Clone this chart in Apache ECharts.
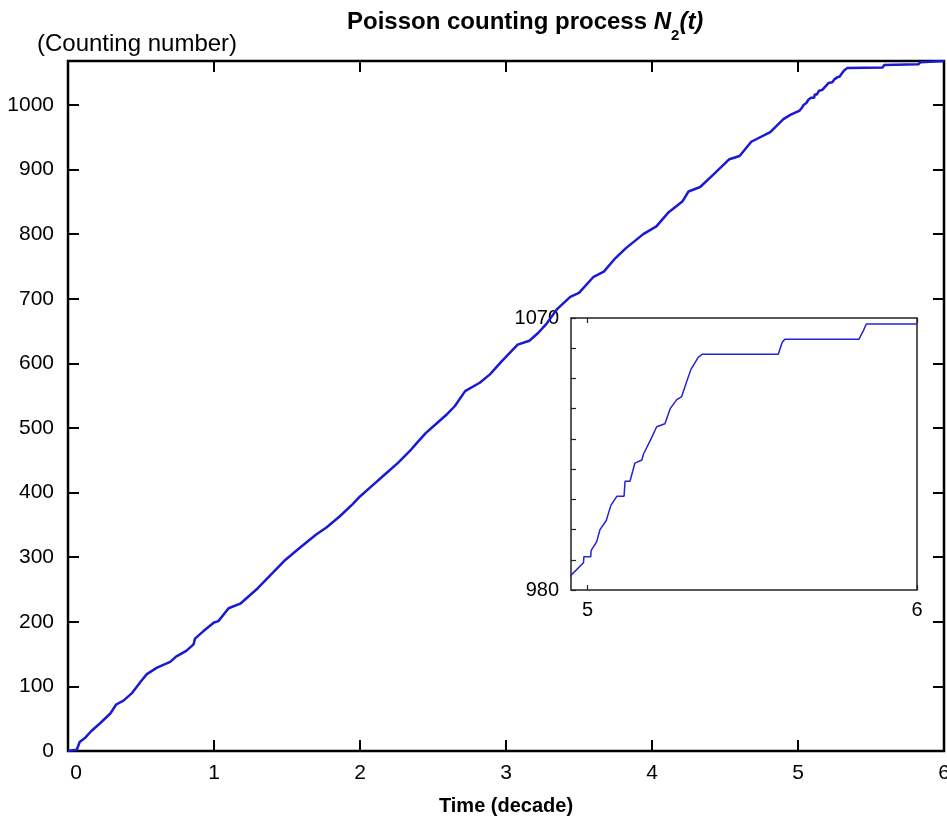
<!DOCTYPE html>
<html>
<head>
<meta charset="utf-8">
<script src="https://cdn.jsdelivr.net/npm/echarts@6/dist/echarts.min.js"></script>
<style>
  html, body { margin: 0; padding: 0; background: #fff; }
  #chart { width: 947px; height: 823px; }
</style>
</head>
<body>
<div id="chart"></div>
<script>
// time (decade) and counting number N2(t)
var times = [0, 0.03, 0.06, 0.08, 0.12, 0.16, 0.22, 0.29, 0.33, 0.38, 0.44, 0.5, 0.54, 0.61, 0.7, 0.74, 0.81, 0.86, 0.87, 0.93,
  1.0, 1.03, 1.1, 1.18, 1.24, 1.3, 1.39, 1.48, 1.59, 1.7, 1.77, 1.86, 1.95, 2.0, 2.08, 2.17, 2.26, 2.34, 2.39, 2.45,
  2.53, 2.59, 2.65, 2.72, 2.82, 2.89, 2.97, 3.08, 3.16, 3.22, 3.28, 3.35, 3.44, 3.5, 3.6, 3.67, 3.75, 3.82, 3.94, 4.03,
  4.11, 4.21, 4.25, 4.33, 4.42, 4.53, 4.6, 4.68, 4.81, 4.9,
  4.951, 4.988, 4.989, 5.010, 5.011, 5.028, 5.038, 5.057, 5.071, 5.089, 5.111, 5.114, 5.129, 5.144, 5.165, 5.170,
  5.193, 5.210, 5.235, 5.251, 5.271, 5.286, 5.298, 5.314, 5.336, 5.348, 5.579, 5.591, 5.599, 5.824, 5.838, 5.846, 6.0];
var counts = [0, 1, 2, 14, 21, 31, 43, 58, 72, 78, 90, 108, 119, 129, 138, 146, 155, 165, 174, 186,
  199, 201, 221, 228, 240, 252, 273, 294, 315, 335, 346, 363, 382, 394, 410, 428, 446, 464, 477, 492,
  508, 520, 534, 557, 570, 583, 603, 629, 635, 647, 662, 684, 703, 709, 734, 742, 763, 778, 800, 812,
  833, 851, 866, 873, 892, 916, 921, 943, 958, 978,
  985, 989, 991, 991, 993, 996, 1000, 1003, 1008, 1011, 1011, 1016, 1016, 1022, 1023, 1025,
  1030, 1034, 1035, 1040, 1043, 1044, 1048, 1053, 1057, 1058, 1058, 1062, 1063, 1063, 1066, 1068, 1068];

var insetXLabels = [5, 6];
var insetYLabels = [980, 1070];

var FONT = 'Liberation Sans, Arial, Helvetica, sans-serif';

var points = times.map(function (t, i) { return [t, counts[i]]; });

var chart = echarts.init(document.getElementById('chart'));

// every axis gets its own tick object
function tickMain() {
  return { show: true, inside: true, length: 11, lineStyle: { color: '#000', width: 2 } };
}
function tickInset(vals) {
  var t = { show: true, inside: true, length: 5, lineStyle: { color: '#222', width: 1.2 } };
  if (vals) t.customValues = vals;
  return t;
}
function plain(v) { return String(v); }

chart.setOption({
  animation: false,
  backgroundColor: '#fff',
  title: [
    {
      text: '{b|Poisson counting process }{i|N}{s|2}{i|(t)}',
      left: 347,
      top: 1,
      padding: 0,
      textStyle: {
        rich: {
          b: { fontFamily: FONT, fontSize: 24, fontWeight: 'bold', color: '#000', lineHeight: 42, verticalAlign: 'middle' },
          i: { fontFamily: FONT, fontSize: 24, fontWeight: 'bold', fontStyle: 'italic', color: '#000', lineHeight: 42, verticalAlign: 'middle' },
          s: { fontFamily: FONT, fontSize: 15, fontWeight: 'bold', color: '#000', lineHeight: 15, verticalAlign: 'bottom' }
        }
      }
    },
    {
      text: '(Counting number)',
      left: 37,
      top: 32,
      padding: 0,
      textStyle: { fontFamily: FONT, fontSize: 24, fontWeight: 'normal', color: '#000' }
    }
  ],
  grid: [
    { left: 68, right: 3, top: 61, bottom: 72, outerBoundsMode: 'none', containLabel: false,
      show: true, borderColor: '#000', borderWidth: 2.5, backgroundColor: 'transparent' },
    { left: 571, right: 30, top: 318, bottom: 233, outerBoundsMode: 'none', containLabel: false,
      show: true, borderColor: '#222', borderWidth: 1.5, backgroundColor: '#fff' }
  ],
  xAxis: [
    {
      gridIndex: 0, type: 'value', position: 'bottom', min: 0, max: 6, interval: 1,
      axisLine: { show: false, onZero: false }, splitLine: { show: false }, axisTick: tickMain(),
      axisLabel: {
        margin: 12, fontFamily: FONT, fontSize: 21, color: '#000',
        formatter: function (v) { return v === 0 ? '{z|0}' : String(v); },
        rich: { z: { fontFamily: FONT, fontSize: 21, color: '#000', padding: [0, 0, 0, 16] } }
      },
      name: 'Time (decade)', nameLocation: 'middle', nameGap: 45,
      nameTextStyle: { fontFamily: FONT, fontSize: 20, fontWeight: 'bold', color: '#000' }
    },
    {
      gridIndex: 0, type: 'value', position: 'top', min: 0, max: 6, interval: 1,
      axisLine: { show: false, onZero: false }, splitLine: { show: false }, axisTick: tickMain(), axisLabel: { show: false }
    },
    {
      gridIndex: 1, type: 'value', position: 'bottom', min: 4.95, max: 6,
      axisLine: { show: false, onZero: false }, splitLine: { show: false },
      axisTick: tickInset(insetXLabels),
      axisLabel: { customValues: insetXLabels, margin: 10, fontFamily: FONT, fontSize: 20, color: '#000', formatter: plain }
    },
    {
      gridIndex: 1, type: 'value', position: 'top', min: 4.95, max: 6,
      axisLine: { show: false, onZero: false }, splitLine: { show: false },
      axisTick: tickInset(insetXLabels),
      axisLabel: { show: false }
    }
  ],
  yAxis: [
    {
      gridIndex: 0, type: 'value', position: 'left', min: 0, max: 1068, interval: 100,
      axisLine: { show: false, onZero: false }, splitLine: { show: false }, axisTick: tickMain(),
      axisLabel: { showMaxLabel: false, margin: 14, fontFamily: FONT, fontSize: 21, color: '#000', formatter: plain }
    },
    {
      gridIndex: 0, type: 'value', position: 'right', min: 0, max: 1068, interval: 100,
      axisLine: { show: false, onZero: false }, splitLine: { show: false }, axisTick: tickMain(), axisLabel: { show: false }
    },
    {
      gridIndex: 1, type: 'value', position: 'left', min: 980, max: 1070, interval: 10,
      axisLine: { show: false, onZero: false }, splitLine: { show: false }, axisTick: tickInset(),
      axisLabel: { customValues: insetYLabels, margin: 12, fontFamily: FONT, fontSize: 20, color: '#000', formatter: plain }
    }
  ],
  series: [
    {
      type: 'line', xAxisIndex: 0, yAxisIndex: 0, data: points,
      showSymbol: false, symbol: 'none',
      lineStyle: { color: '#1a1ad2', width: 2.5 }
    },
    {
      type: 'line', xAxisIndex: 2, yAxisIndex: 2, data: points,
      showSymbol: false, symbol: 'none', clip: true, z: 5,
      lineStyle: { color: '#2323d8', width: 1.5 }
    }
  ]
});
</script>
</body>
</html>
